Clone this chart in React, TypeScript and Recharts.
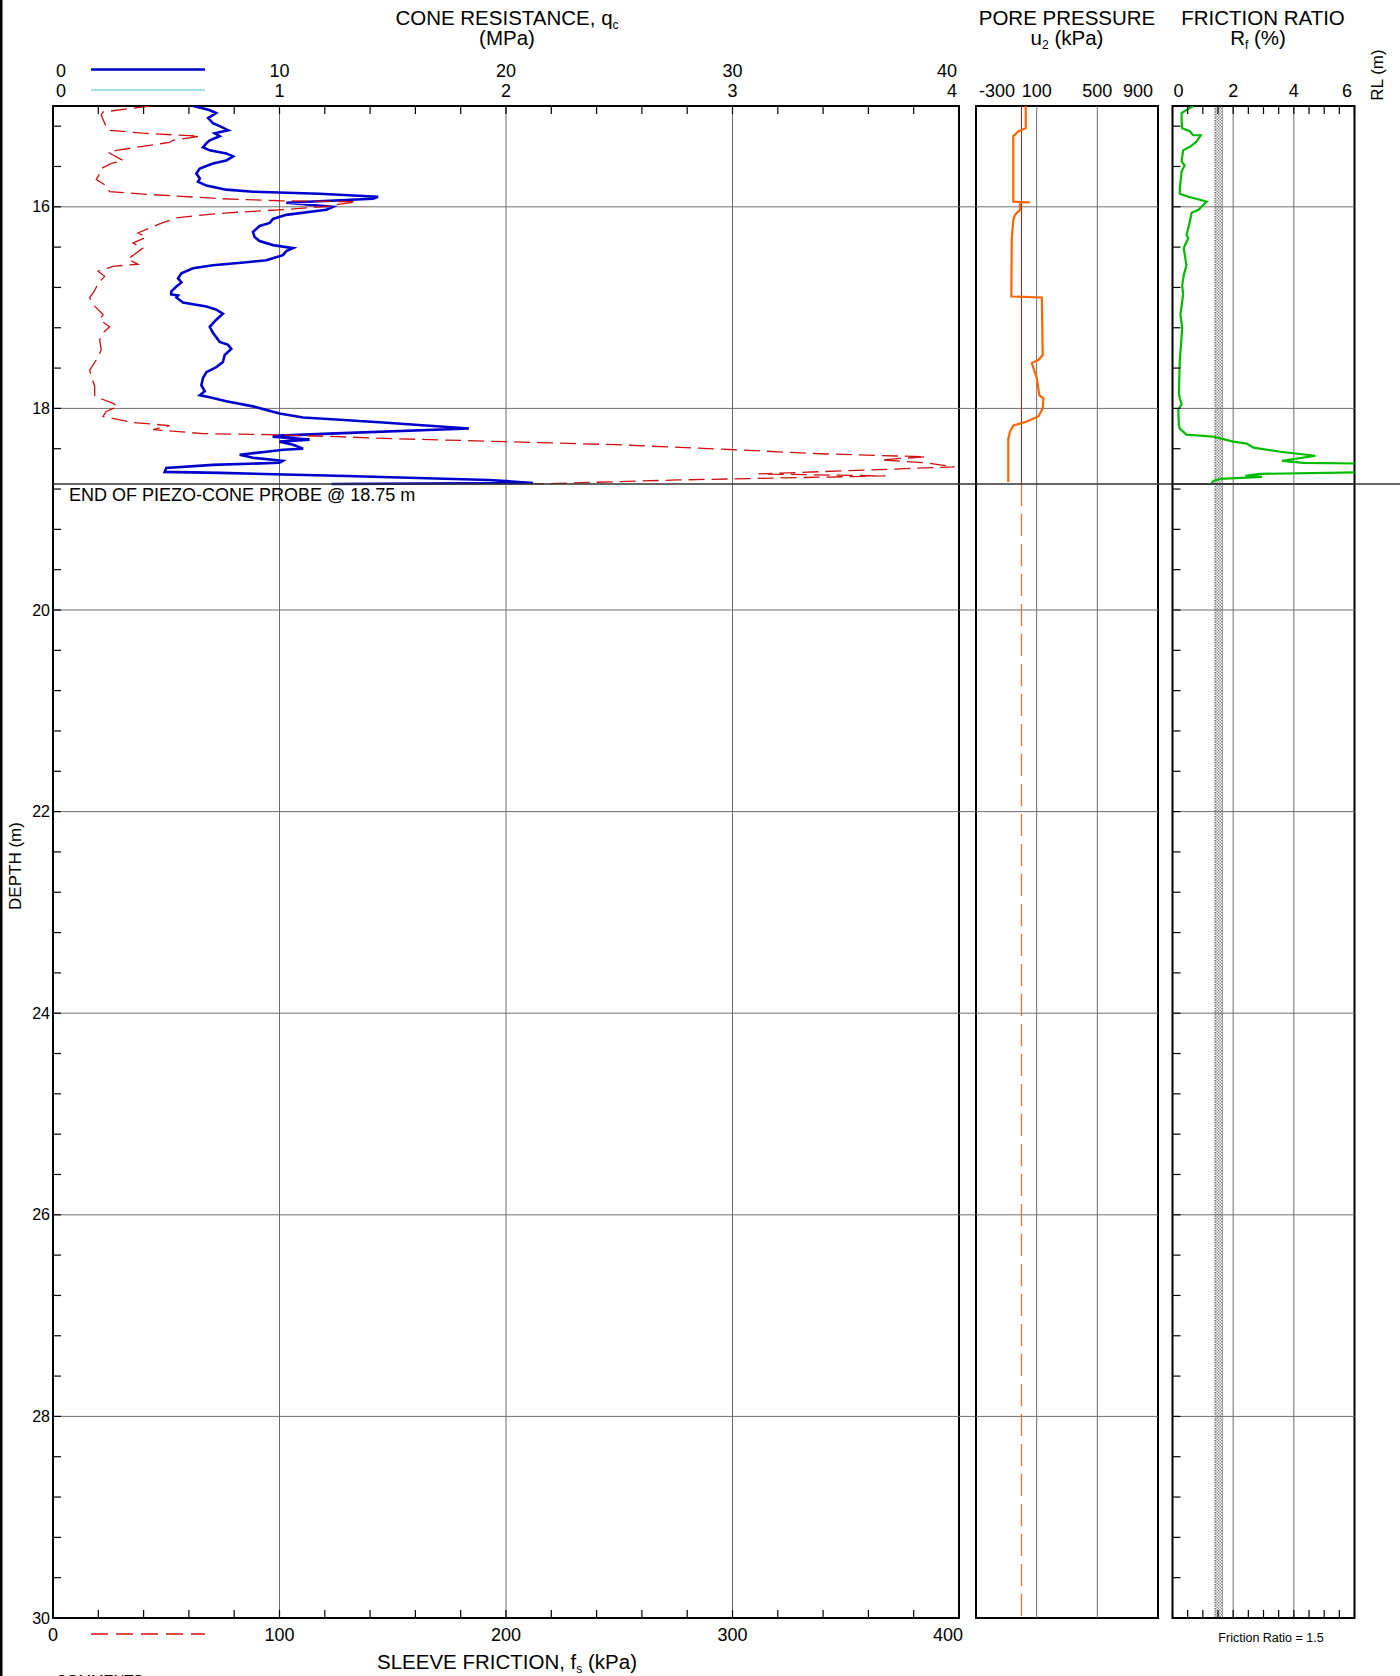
import React from "react";
import { LineChart, Line, XAxis, YAxis, ReferenceLine, ReferenceArea } from "recharts";

const FONT = '"Liberation Sans", Arial, Helvetica, sans-serif';

// depth (m), cone resistance qc (MPa)
const qcProfile: [number, number][] = [
  [15.0, 6.2], [15.04, 6.9], [15.07, 7.2], [15.12, 6.85], [15.17, 7.06], [15.2, 7.36], [15.24, 7.73],
  [15.27, 7.14], [15.3, 7.36], [15.34, 6.92], [15.37, 6.77], [15.41, 6.62], [15.44, 6.92], [15.47, 7.65],
  [15.5, 7.95], [15.54, 7.65], [15.57, 7.06], [15.62, 6.48], [15.67, 6.33], [15.72, 6.48], [15.75, 6.4],
  [15.79, 6.77], [15.83, 7.65], [15.85, 8.83], [15.87, 11.77], [15.9, 14.35], [15.92, 14.13], [15.96, 10.3],
  [16.0, 12.36], [16.03, 12.07], [16.08, 10.3], [16.12, 9.71], [16.16, 9.57], [16.19, 9.12], [16.25, 8.83],
  [16.3, 8.9], [16.34, 9.12], [16.38, 9.71], [16.41, 10.6], [16.44, 10.3], [16.48, 10.15], [16.53, 9.42],
  [16.55, 8.54], [16.58, 7.06], [16.61, 6.18], [16.66, 5.67], [16.71, 5.52], [16.75, 5.67], [16.79, 5.45],
  [16.84, 5.22], [16.87, 5.22], [16.88, 5.52], [16.9, 5.45], [16.95, 5.74], [16.99, 6.77], [17.02, 7.21],
  [17.06, 7.5], [17.12, 7.21], [17.19, 6.92], [17.25, 7.06], [17.34, 7.36], [17.37, 7.73], [17.41, 7.87],
  [17.47, 7.58], [17.54, 7.5], [17.59, 7.21], [17.64, 6.77], [17.7, 6.62], [17.77, 6.55], [17.83, 6.7],
  [17.87, 6.48], [17.89, 6.92], [17.93, 7.65], [17.98, 8.83], [18.05, 10.0], [18.09, 11.04], [18.11, 12.5],
  [18.14, 14.57], [18.2, 18.36], [18.25, 12.2], [18.27, 10.0], [18.28, 9.7], [18.31, 11.33], [18.33, 10.0],
  [18.36, 10.6], [18.4, 11.04], [18.41, 10.15], [18.43, 9.42], [18.46, 8.24], [18.49, 8.83], [18.52, 10.15],
  [18.54, 10.0], [18.56, 7.06], [18.59, 5.0], [18.63, 4.93], [18.64, 7.36], [18.67, 12.95], [18.71, 19.25],
  [18.74, 21.2], [18.75, 12.3],
];

// depth (m), sleeve friction fs (kPa)
const fsProfile: [number, number][] = [
  [15.0, 42.7], [15.06, 22.0], [15.09, 21.3], [15.17, 22.8], [15.24, 24.3], [15.27, 39.7], [15.3, 64.8],
  [15.34, 53.0], [15.36, 51.5], [15.4, 39.7], [15.44, 28.0], [15.46, 24.3], [15.54, 30.9], [15.57, 25.8],
  [15.62, 21.3], [15.67, 20.6], [15.73, 19.1], [15.79, 23.5], [15.85, 25.0], [15.88, 44.0], [15.92, 75.0],
  [15.94, 100.0], [15.95, 134.0], [16.0, 119.0], [16.03, 100.0], [16.06, 77.0], [16.09, 62.0], [16.11, 54.5],
  [16.17, 47.1], [16.21, 42.7], [16.26, 37.5], [16.3, 41.2], [16.36, 35.3], [16.41, 39.7], [16.47, 36.0],
  [16.52, 33.0], [16.57, 37.5], [16.59, 26.5], [16.64, 19.9], [16.69, 22.8], [16.76, 19.9], [16.83, 18.4],
  [16.9, 16.2], [16.97, 17.7], [17.07, 22.1], [17.12, 20.6], [17.19, 25.0], [17.25, 22.1], [17.32, 20.6],
  [17.42, 21.3], [17.52, 19.1], [17.62, 16.2], [17.68, 16.9], [17.78, 18.4], [17.88, 18.4], [17.95, 26.5],
  [17.98, 28.7], [18.03, 23.5], [18.08, 22.1], [18.14, 35.3], [18.17, 51.5], [18.21, 44.2], [18.25, 66.2],
  [18.26, 95.7], [18.28, 125.0], [18.3, 150.0], [18.33, 199.8], [18.36, 248.4], [18.41, 300.7], [18.45, 338.5],
  [18.48, 385.4], [18.51, 365.6], [18.54, 385.4], [18.58, 398.0], [18.65, 311.5], [18.67, 367.6], [18.71, 275.5],
  [18.75, 212.4],
];

// depth (m), pore pressure u2 (kPa)
const u2Profile: [number, number][] = [
  [15.0, 28], [15.22, 28], [15.25, -20], [15.3, -54], [15.95, -54], [15.955, 56], [15.96, -10], [16.03, -10],
  [16.08, -43], [16.13, -54], [16.31, -64], [16.87, -67], [16.89, -67], [16.9, 134], [17.47, 140], [17.52, 111],
  [17.55, 68], [17.7, 101], [17.87, 118], [17.9, 144], [18.0, 140], [18.08, 111], [18.13, 35], [18.17, -54],
  [18.23, -76], [18.3, -87], [18.73, -87],
];

// depth (m), friction ratio Rf (%)
const rfProfile: [number, number][] = [
  [15.0, 0.68], [15.04, 0.46], [15.07, 0.3], [15.15, 0.3], [15.22, 0.32], [15.25, 0.57], [15.29, 0.68],
  [15.29, 0.93], [15.35, 0.8], [15.4, 0.6], [15.44, 0.35], [15.55, 0.3], [15.59, 0.4], [15.65, 0.3],
  [15.82, 0.24], [15.87, 0.24], [15.9, 0.52], [15.93, 0.9], [15.95, 1.13], [15.98, 1.02], [16.03, 0.86],
  [16.06, 0.63], [16.15, 0.57], [16.28, 0.46], [16.31, 0.52], [16.41, 0.37], [16.58, 0.46], [16.68, 0.37],
  [16.78, 0.32], [16.87, 0.35], [17.07, 0.26], [17.2, 0.32], [17.53, 0.24], [17.86, 0.21], [17.96, 0.3],
  [18.01, 0.19], [18.16, 0.21], [18.2, 0.24], [18.26, 0.46], [18.28, 1.35], [18.33, 2.0], [18.35, 2.45],
  [18.39, 2.67], [18.43, 3.55], [18.47, 4.71], [18.52, 3.61], [18.54, 4.32], [18.55, 6.9], [18.63, 6.9],
  [18.65, 2.89], [18.67, 2.4], [18.68, 2.95], [18.7, 1.57], [18.72, 1.35], [18.74, 1.29],
];

const depthTicks = [
  15.2, 15.6, 16, 16.4, 16.8, 17.2, 17.6, 18, 18.4, 18.8, 19.2, 19.6, 20, 20.4, 20.8, 21.2, 21.6, 22, 22.4,
  22.8, 23.2, 23.6, 24, 24.4, 24.8, 25.2, 25.6, 26, 26.4, 26.8, 27.2, 27.6, 28, 28.4, 28.8, 29.2, 29.6, 30,
];
const depthLabels = [16, 18, 20, 22, 24, 26, 28, 30];
const depthGrid = [16, 18, 20, 22, 24, 26, 28];
const qcTicks = [0, 2, 4, 6, 8, 10, 12, 14, 16, 18, 20, 22, 24, 26, 28, 30, 32, 34, 36, 38, 40];
const qcLabels = [0, 10, 20, 30, 40];
const qcGrid = [10, 20, 30];
const ratioLabels = [0, 1, 2, 3, 4];
const fsTicks = [0, 20, 40, 60, 80, 100, 120, 140, 160, 180, 200, 220, 240, 260, 280, 300, 320, 340, 360, 380, 400];
const fsLabels = [0, 100, 200, 300, 400];
const u2Labels = [-300, 100, 500, 900];
const u2Grid = [100, 500];
const rfTicks = [0, 0.5, 1, 1.5, 2, 2.5, 3, 3.5, 4, 4.5, 5, 5.5, 6];
const rfLabels = [0, 2, 4, 6];
const rfGrid = [2, 4];
const rfBand = [1.4, 1.65];
const hydrostatic = 0;
const probeEnd = 18.75;

// page geometry
const W = 1400;
const H = 1676;
const TOP = 106;
const BOTTOM = 1618;
const QC_L = 53;
const QC_R = 959;
const U_L = 976;
const U_R = 1158;
const RF_L = 1172.5;
const RF_R = 1354.5;
const TICK = 8;

const leftRows = [
  ...qcProfile.map(([depth, qc]) => ({ depth, qc })),
  ...fsProfile.map(([depth, fs]) => ({ depth, fs })),
].sort((a, b) => a.depth - b.depth);
const u2Rows = u2Profile.map(([depth, u2]) => ({ depth, u2 }));
const rfRows = rfProfile.map(([depth, rf]) => ({ depth, rf }));

// how far the grid / end-of-probe lines run past each panel, in data units
const qcExt = ((U_L - QC_L) / (QC_R - QC_L)) * 40;
const uExt = ((RF_L - U_L) / (U_R - U_L)) * 1200 + 900;
const rfExt = ((W - RF_L) / (RF_R - RF_L)) * 6;

const txt = { fontFamily: FONT, fill: "#000" } as const;

const QcTopTick = ({ x, payload }: any) => {
  const v = payload.value;
  let anchor: any = "middle";
  let tx = x;
  if (v === 0) { anchor = "start"; tx = x + 3; }
  if (v === 40) { anchor = "end"; tx = x - 2; }
  return (
    <g>
      <line x1={x} x2={x} y1={TOP} y2={TOP + TICK} stroke="#000" strokeWidth={1.2} />
      {qcLabels.includes(v) && (
        <text x={tx} y={77} textAnchor={anchor} fontSize={18} {...txt}>{v}</text>
      )}
    </g>
  );
};

const RatioTopTick = ({ x, payload }: any) => {
  const v = payload.value;
  let anchor: any = "middle";
  let tx = x;
  if (v === 0) { anchor = "start"; tx = x + 3; }
  if (v === 4) { anchor = "end"; tx = x - 2; }
  return <text x={tx} y={97} textAnchor={anchor} fontSize={18} {...txt}>{v}</text>;
};

const FsBottomTick = ({ x, payload }: any) => {
  const v = payload.value;
  let anchor: any = "middle";
  let tx = x;
  if (v === 400) { anchor = "end"; tx = x + 4; }
  return (
    <g>
      <line x1={x} x2={x} y1={BOTTOM} y2={BOTTOM - TICK} stroke="#000" strokeWidth={1.2} />
      {fsLabels.includes(v) && (
        <text x={tx} y={1641} textAnchor={anchor} fontSize={18} {...txt}>{v}</text>
      )}
    </g>
  );
};

const DepthTick = ({ y, payload }: any) => {
  const v = payload.value;
  return (
    <g>
      <line x1={QC_L} x2={QC_L + TICK} y1={y} y2={y} stroke="#000" strokeWidth={1.2} />
      {depthLabels.includes(v) && (
        <text x={50} y={y} textAnchor="end" dominantBaseline="central" fontSize={16} {...txt}>{v}</text>
      )}
    </g>
  );
};

const U2TopTick = ({ x, payload }: any) => {
  const v = payload.value;
  let anchor: any = "middle";
  let tx = x;
  if (v === -300) { anchor = "start"; tx = x + 3; }
  if (v === 900) { anchor = "end"; tx = x - 5; }
  return <text x={tx} y={97} textAnchor={anchor} fontSize={18} {...txt}>{v}</text>;
};

const RfTopTick = ({ x, payload }: any) => {
  const v = payload.value;
  let anchor: any = "middle";
  let tx = x;
  if (v === 0) { anchor = "start"; tx = x + 1; }
  if (v === 6) { anchor = "end"; tx = x - 2.5; }
  return (
    <g>
      <line x1={x} x2={x} y1={TOP} y2={TOP + TICK} stroke="#000" strokeWidth={1.2} />
      {rfLabels.includes(v) && (
        <text x={tx} y={97} textAnchor={anchor} fontSize={18} {...txt}>{v}</text>
      )}
    </g>
  );
};

const RfBottomTick = ({ x }: any) => (
  <line x1={x} x2={x} y1={BOTTOM} y2={BOTTOM - TICK} stroke="#000" strokeWidth={1.2} />
);

const RfDepthTick = ({ y }: any) => (
  <line x1={RF_L} x2={RF_L + TICK} y1={y} y2={y} stroke="#000" strokeWidth={1.2} />
);

const layer: React.CSSProperties = { position: "absolute", left: 0, top: 0 };

function ConePanel() {
  return (
    <div style={layer}>
      <LineChart
        width={W}
        height={H}
        data={leftRows}
        layout="vertical"
        margin={{ top: TOP - 40, bottom: H - BOTTOM - 30, left: QC_L - 40, right: W - QC_R }}
      >
        <XAxis xAxisId="qc" type="number" orientation="top" height={20} domain={[0, 40]} allowDataOverflow
          ticks={qcTicks} interval={0} axisLine={false} tickLine={false} tick={QcTopTick} />
        <XAxis xAxisId="ratio" type="number" orientation="top" height={20} domain={[0, 4]} allowDataOverflow
          ticks={ratioLabels} interval={0} axisLine={false} tickLine={false} tick={RatioTopTick} />
        <XAxis xAxisId="fs" type="number" orientation="bottom" height={30} domain={[0, 400]} allowDataOverflow
          ticks={fsTicks} interval={0} axisLine={false} tickLine={false} tick={FsBottomTick} />
        <YAxis yAxisId="d" dataKey="depth" type="number" orientation="left" width={40} domain={[15, 30]}
          allowDataOverflow ticks={depthTicks} interval={0} axisLine={false} tickLine={false} tick={DepthTick} />
        {qcGrid.map((v) => (
          <ReferenceLine key={"qg" + v} xAxisId="qc" yAxisId="d" x={v} stroke="#6e6e6e" strokeWidth={1} />
        ))}
        {depthGrid.map((d) => (
          <ReferenceLine key={"dg" + d} xAxisId="qc" yAxisId="d" ifOverflow="visible"
            segment={[{ x: 0, y: d }, { x: qcExt, y: d }]} stroke="#6e6e6e" strokeWidth={1} />
        ))}
        <Line xAxisId="qc" yAxisId="d" dataKey="qc" type="linear" stroke="#0000cc" strokeWidth={2.6}
          dot={false} connectNulls isAnimationActive={false} />
        <Line xAxisId="fs" yAxisId="d" dataKey="fs" type="linear" stroke="#d01010" strokeWidth={1.3}
          strokeDasharray="16 7" dot={false} connectNulls isAnimationActive={false} />
        <ReferenceLine xAxisId="qc" yAxisId="d" ifOverflow="visible"
          segment={[{ x: 0, y: probeEnd }, { x: qcExt, y: probeEnd }]} stroke="#333" strokeWidth={1.6} />
        <ReferenceArea xAxisId="qc" yAxisId="d" x1={0} x2={40} y1={15} y2={30} ifOverflow="visible"
          fill="none" stroke="#000" strokeWidth={2} />
      </LineChart>
    </div>
  );
}

function PorePanel() {
  return (
    <div style={layer}>
      <LineChart
        width={W}
        height={H}
        data={u2Rows}
        layout="vertical"
        margin={{ top: TOP - 20, bottom: H - BOTTOM, left: U_L, right: W - U_R }}
      >
        <XAxis xAxisId="u" type="number" orientation="top" height={20} domain={[-300, 900]} allowDataOverflow
          ticks={u2Labels} interval={0} axisLine={false} tickLine={false} tick={U2TopTick} />
        <YAxis yAxisId="d" dataKey="depth" type="number" hide domain={[15, 30]} allowDataOverflow />
        {u2Grid.map((v) => (
          <ReferenceLine key={"ug" + v} xAxisId="u" yAxisId="d" x={v} stroke="#6e6e6e" strokeWidth={1} />
        ))}
        {depthGrid.map((d) => (
          <ReferenceLine key={"udg" + d} xAxisId="u" yAxisId="d" y={d} stroke="#6e6e6e" strokeWidth={1} />
        ))}
        <ReferenceLine xAxisId="u" yAxisId="d" ifOverflow="visible"
          segment={[{ x: hydrostatic, y: 15 }, { x: hydrostatic, y: probeEnd }]} stroke="#b02020" strokeWidth={1} />
        <ReferenceLine xAxisId="u" yAxisId="d" ifOverflow="visible"
          segment={[{ x: hydrostatic, y: probeEnd }, { x: hydrostatic, y: 30 }]} stroke="#ff6a1a"
          strokeWidth={1.2} strokeDasharray="22 8" />
        <Line xAxisId="u" yAxisId="d" dataKey="u2" type="linear" stroke="#ff6600" strokeWidth={2.2}
          dot={false} isAnimationActive={false} />
        <ReferenceLine xAxisId="u" yAxisId="d" ifOverflow="visible"
          segment={[{ x: -300, y: probeEnd }, { x: uExt, y: probeEnd }]} stroke="#333" strokeWidth={1.6} />
        <ReferenceArea xAxisId="u" yAxisId="d" x1={-300} x2={900} y1={15} y2={30} ifOverflow="visible"
          fill="none" stroke="#000" strokeWidth={2} />
      </LineChart>
    </div>
  );
}

function FrictionPanel() {
  return (
    <div style={layer}>
      <LineChart
        width={W}
        height={H}
        data={rfRows}
        layout="vertical"
        margin={{ top: TOP - 20, bottom: H - BOTTOM - 20, left: RF_L - 10, right: W - RF_R }}
      >
        <XAxis xAxisId="rf" type="number" orientation="top" height={20} domain={[0, 6]} allowDataOverflow
          ticks={rfTicks} interval={0} axisLine={false} tickLine={false} tick={RfTopTick} />
        <XAxis xAxisId="rfb" type="number" orientation="bottom" height={20} domain={[0, 6]} allowDataOverflow
          ticks={rfTicks} interval={0} axisLine={false} tickLine={false} tick={RfBottomTick} />
        <YAxis yAxisId="d" dataKey="depth" type="number" orientation="left" width={10} domain={[15, 30]}
          allowDataOverflow ticks={depthTicks} interval={0} axisLine={false} tickLine={false} tick={RfDepthTick} />
        <ReferenceArea xAxisId="rf" yAxisId="d" x1={rfBand[0]} x2={rfBand[1]} y1={15} y2={30}
          fill="url(#rfDots)" stroke="#333" strokeWidth={0.8} strokeDasharray="1 1" />
        {rfGrid.map((v) => (
          <ReferenceLine key={"rg" + v} xAxisId="rf" yAxisId="d" x={v} stroke="#6e6e6e" strokeWidth={1} />
        ))}
        {depthGrid.map((d) => (
          <ReferenceLine key={"rdg" + d} xAxisId="rf" yAxisId="d" y={d} stroke="#6e6e6e" strokeWidth={1} />
        ))}
        <Line xAxisId="rf" yAxisId="d" dataKey="rf" type="linear" stroke="#00bb00" strokeWidth={2.2}
          dot={false} isAnimationActive={false} />
        <ReferenceLine xAxisId="rf" yAxisId="d" ifOverflow="visible"
          segment={[{ x: 0, y: probeEnd }, { x: rfExt, y: probeEnd }]} stroke="#333" strokeWidth={1.6} />
        <ReferenceArea xAxisId="rf" yAxisId="d" x1={0} x2={6} y1={15} y2={30} ifOverflow="visible"
          fill="none" stroke="#000" strokeWidth={2} />
      </LineChart>
    </div>
  );
}

function Labels() {
  return (
    <svg width={W} height={H} style={{ ...layer, pointerEvents: "none" }}>
      <defs>
        <pattern id="rfDots" width="3" height="3" patternUnits="userSpaceOnUse">
          <rect x="0" y="0" width="1.5" height="1.5" fill="#222" />
          <rect x="1.5" y="1.5" width="1.5" height="1.5" fill="#222" />
        </pattern>
      </defs>
      <rect x={0} y={0} width={2.5} height={H} fill="#000" />

      <text x={507} y={25} textAnchor="middle" fontSize={20.5} {...txt}>
        CONE RESISTANCE, q<tspan fontSize={12} dy={4}>c</tspan>
      </text>
      <text x={507} y={45} textAnchor="middle" fontSize={20.5} {...txt}>(MPa)</text>
      <text x={1067} y={25} textAnchor="middle" fontSize={20.5} {...txt}>PORE PRESSURE</text>
      <text x={1067} y={45} textAnchor="middle" fontSize={20.5} {...txt}>
        u<tspan fontSize={12} dy={4}>2</tspan><tspan dy={-4}> (kPa)</tspan>
      </text>
      <text x={1263} y={25} textAnchor="middle" fontSize={20.5} {...txt}>FRICTION RATIO</text>
      <text x={1258} y={45} textAnchor="middle" fontSize={20.5} {...txt}>
        R<tspan fontSize={12} dy={4}>f</tspan><tspan dy={-4}> (%)</tspan>
      </text>
      <text transform="translate(1377,75) rotate(-90)" textAnchor="middle" dominantBaseline="central" fontSize={17} {...txt}>
        RL (m)
      </text>
      <text transform="translate(15,866) rotate(-90)" textAnchor="middle" dominantBaseline="central" fontSize={17} {...txt}>
        DEPTH (m)
      </text>

      <line x1={91} x2={205} y1={69.5} y2={69.5} stroke="#0000cc" strokeWidth={2.4} />
      <line x1={91} x2={205} y1={90} y2={90} stroke="#7fd8de" strokeWidth={1.6} />
      <line x1={91} x2={205} y1={1634} y2={1634} stroke="#d01010" strokeWidth={1.4} strokeDasharray="17 8" />

      <text x={69} y={501} fontSize={18} {...txt}>END OF PIEZO-CONE PROBE @ 18.75 m</text>

      <text x={507} y={1669} textAnchor="middle" fontSize={20.5} {...txt}>
        SLEEVE FRICTION, f<tspan fontSize={12} dy={4}>s</tspan><tspan dy={-4}> (kPa)</tspan>
      </text>
      <text x={1271} y={1642} textAnchor="middle" fontSize={12.5} {...txt}>Friction Ratio = 1.5</text>
      <text x={56} y={1685} fontSize={15} {...txt}>COMMENTS</text>
    </svg>
  );
}

export default function App() {
  return (
    <div style={{ position: "absolute", left: 0, top: 0, width: W, height: H, background: "#fff", overflow: "hidden", fontFamily: FONT }}>
      <ConePanel />
      <PorePanel />
      <FrictionPanel />
      <Labels />
    </div>
  );
}
